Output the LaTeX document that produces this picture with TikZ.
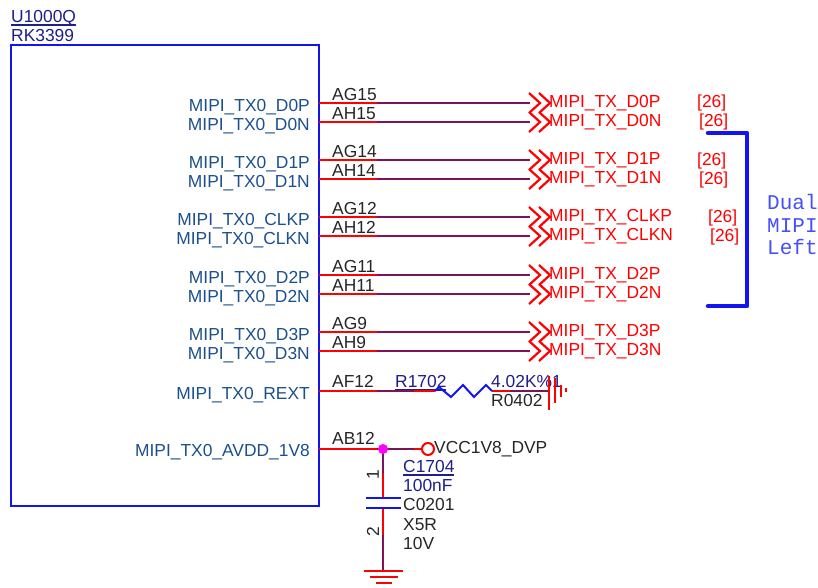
\documentclass[tikz,border=0pt]{standalone}
\usepackage{fontspec}
\setmainfont{Liberation Sans}
\newfontfamily\notefont{Liberation Mono}
\usepackage{tikz}
\definecolor{boxblue}{RGB}{20,20,240}
\definecolor{pinblue}{RGB}{28,80,140}
\definecolor{refblue}{RGB}{30,30,140}
\definecolor{notblue}{RGB}{70,80,250}
\definecolor{wirepurple}{RGB}{125,20,90}
\definecolor{juncpink}{RGB}{255,0,255}
\tikzset{
  lbl/.style={inner sep=0pt, font=\fontsize{17.4}{20}\selectfont},
  pinlbl/.style={lbl, anchor=base east, text=pinblue},
  padlbl/.style={lbl, anchor=base west, text=black!85},
  netlbl/.style={lbl, anchor=base west, text=red},
  reflbl/.style={lbl, anchor=base west, text=refblue},
  notelbl/.style={inner sep=0pt, anchor=base west, text=notblue, font=\notefont\fontsize{21}{24}\selectfont},
  wirered/.style={draw=red, line width=2pt},
  wiremid/.style={draw=wirepurple, line width=2.2pt},
  part/.style={draw=boxblue, line width=2pt},
  redline/.style={draw=red, line width=2.2pt}
}
% one differential line: id, y, pin name, pad, net
\newcommand{\mipiline}[5]{
  \node[pinlbl] (#1name) at (310,#2+8) {#3};
  \node[padlbl] (#1pad) at (332,#2-3) {#4};
  \node[netlbl] (#1net) at (549,#2+4) {#5};
  \coordinate (#1a) at (319,#2);
  \coordinate (#1b) at (377,#2);
  \coordinate (#1c) at (530,#2);
  \draw[wiremid] (#1b) -- (#1c);
  \draw[wirered] (#1a) -- (#1b);
  \draw[redline] (529,#2-10) -- (540,#2) -- (529,#2+10);
  \draw[redline] (539,#2-10) -- (550,#2) -- (539,#2+10);
}
% sheet number: id, x, y
\newcommand{\mipisheet}[3]{\node[netlbl] (#1) at (#2,#3) {[26]};}
\begin{document}
\begin{tikzpicture}[x=1pt, y=-1pt]
  \useasboundingbox (0,0) rectangle (818,587);
  % chip
  \draw[part] (11,45) rectangle (319,506);
  \node[reflbl] (chipref) at (11,22) {U1000Q};
  \draw[draw=refblue, line width=1.4pt] (chipref.base west) ++(0,3) -- ++(65,0);
  \node[reflbl] (chipname) at (11,41) {RK3399};
  % pair 0
  \mipiline{dzp}{103}{MIPI\_TX0\_D0P}{AG15}{MIPI\_TX\_D0P}
  \mipiline{dzn}{122}{MIPI\_TX0\_D0N}{AH15}{MIPI\_TX\_D0N}
  % pair 1
  \mipiline{dap}{160}{MIPI\_TX0\_D1P}{AG14}{MIPI\_TX\_D1P}
  \mipiline{dan}{179}{MIPI\_TX0\_D1N}{AH14}{MIPI\_TX\_D1N}
  % clock
  \mipiline{ckp}{217}{MIPI\_TX0\_CLKP}{AG12}{MIPI\_TX\_CLKP}
  \mipiline{ckn}{236}{MIPI\_TX0\_CLKN}{AH12}{MIPI\_TX\_CLKN}
  % pair 2
  \mipiline{dbp}{275}{MIPI\_TX0\_D2P}{AG11}{MIPI\_TX\_D2P}
  \mipiline{dbn}{294}{MIPI\_TX0\_D2N}{AH11}{MIPI\_TX\_D2N}
  % pair 3
  \mipiline{dcp}{332}{MIPI\_TX0\_D3P}{AG9}{MIPI\_TX\_D3P}
  \mipiline{dcn}{351}{MIPI\_TX0\_D3N}{AH9}{MIPI\_TX\_D3N}
  % sheet numbers
  \mipisheet{dzpref}{697}{107}
  \mipisheet{dznref}{699}{126}
  \mipisheet{dapref}{697}{165}
  \mipisheet{danref}{699}{184}
  \mipisheet{ckpref}{708}{222}
  \mipisheet{cknref}{710}{241}
  % bracket and note
  \draw[draw=boxblue, line width=4.5pt, line cap=round, line join=round] (708,133) -- (747,133) -- (747,306) -- (708,306);
  \node[notelbl] (notea) at (767,209) {Dual};
  \node[notelbl] (noteb) at (767,232) {MIPI};
  \node[notelbl] (notec) at (767,254) {Left};
  % rext
  \node[pinlbl] (rextname) at (310,399) {MIPI\_TX0\_REXT};
  \node[padlbl] (rextpad) at (332,387) {AF12};
  \node[reflbl] (rref) at (395,387) {R1702};
  \draw[draw=refblue, line width=1.4pt] (rref.base west) ++(0,3) -- ++(51,0);
  \node[reflbl] (rval) at (491,387) {4.02K\%1};
  \node[padlbl] (rsize) at (491,406) {R0402};
  \coordinate (rexta) at (319,391);
  \coordinate (rextb) at (377,391);
  \coordinate (rextc) at (435,391);
  \coordinate (rextd) at (492,391);
  \coordinate (rexte) at (510,391);
  \coordinate (rextf) at (549,391);
  \draw[wiremid] (rextb) -- (rextc);
  \draw[wirered] (rexta) -- (rextb);
  \draw[wirered] (414,391) -- (rextc);
  \draw[wirered] (rextd) -- (rexte);
  \draw[wiremid] (rexte) -- (rextf);
  \draw[part] (rextc) -- (439,387) -- (451,397) -- (463,385) -- (474,397) -- (486,385) -- (rextd);
  \draw[redline] (549,376) -- (549,410);
  \draw[redline] (555,378) -- (555,403);
  \draw[redline] (561,385) -- (561,397);
  \draw[redline] (566,388) -- (566,392);
  % avdd
  \node[pinlbl] (avddname) at (310,456) {MIPI\_TX0\_AVDD\_1V8};
  \node[padlbl] (avddpad) at (332,444) {AB12};
  \node[padlbl] (vccname) at (434,453) {VCC1V8\_DVP};
  \node[draw=red, line width=2pt, circle, minimum size=12pt, inner sep=0pt] (vcc) at (428,449) {};
  \coordinate (avdda) at (319,449);
  \coordinate (avddb) at (377,449);
  \coordinate (avddc) at (414,449);
  \coordinate (junc) at (383,449);
  \draw[wiremid] (avddb) -- (avddc);
  \draw[wirered] (avdda) -- (avddb);
  \draw[wirered] (avddc) -- (vcc);
  % capacitor
  \coordinate (capa) at (383,473);
  \coordinate (capb) at (383,498);
  \coordinate (capc) at (383,508);
  \coordinate (capd) at (383,535);
  \coordinate (cape) at (383,571);
  \draw[wiremid] (junc) -- (capa);
  \draw[wirered] (capa) -- (capb);
  \draw[wirered] (capc) -- (capd);
  \draw[wiremid] (capd) -- (cape);
  \draw[part] (366,498) -- (401,498);
  \draw[part] (366,508) -- (401,508);
  \fill[juncpink] (junc) circle (5);
  \node[reflbl] (cref) at (403,472) {C1704};
  \draw[draw=refblue, line width=1.4pt] (cref.base west) ++(0,3) -- ++(51,0);
  \node[reflbl] (cval) at (403,491) {100nF};
  \node[padlbl] (csize) at (403,510) {C0201};
  \node[padlbl] (ctype) at (403,530) {X5R};
  \node[padlbl] (cvolt) at (403,549) {10V};
  \node[lbl, rotate=90, text=black!85] (cpina) at (373,475) {1};
  \node[lbl, rotate=90, text=black!85] (cpinb) at (373,532) {2};
  \draw[redline] (364,571) -- (403,571);
  \draw[redline] (370,577) -- (398,577);
  \draw[redline] (376,583) -- (392,583);
\end{tikzpicture}
\end{document}
